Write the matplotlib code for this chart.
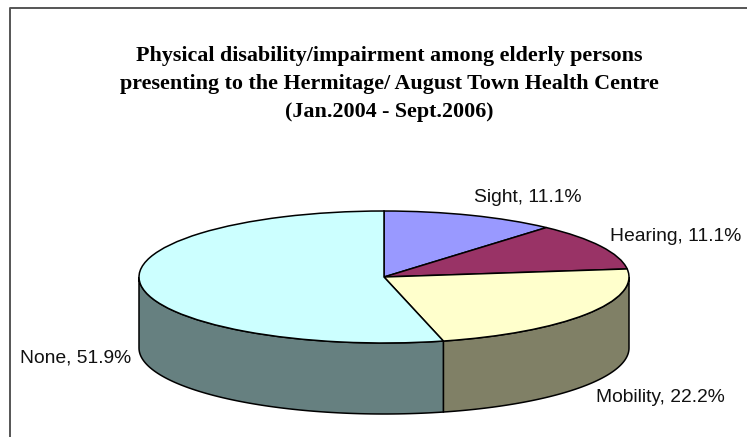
import matplotlib
matplotlib.use("Agg")
import matplotlib.pyplot as plt
import numpy as np
from matplotlib.lines import Line2D

# values as labelled; they do not sum to 100, the pie normalises them
categories = ["Sight", "Hearing", "Mobility", "None"]
percents = [11.1, 11.1, 22.2, 51.9]
top_colors = ["#9999ff", "#993366", "#ffffcc", "#ccffff"]
wall_colors = ["#4d4d80", "#4d1a33", "#808066", "#668080"]
title_lines = "Physical disability/impairment among elderly persons\npresenting to the Hermitage/ August Town Health Centre\n(Jan.2004 - Sept.2006)"

W, H = 747, 437
CX, CY, RX, RY, DEPTH = 384, 277, 245, 66, 71
LABEL_POS = [(474, 198), (610, 236), (596.5, 398), (20, 358)]

plt.rcParams["font.family"] = "Liberation Sans"

fig = plt.figure(figsize=(W / 100, H / 100), dpi=100)
ax = fig.add_axes([0, 0, 1, 1])

ax.pie(
    percents,
    colors=top_colors,
    startangle=90,
    counterclock=False,
    wedgeprops={"edgecolor": "black", "linewidth": 1.1, "zorder": 3},
)
ax.set_aspect("auto")
ax.set_xlim(-CX / RX, (W - CX) / RX)
ax.set_ylim(-(H - CY) / RY, CY / RY)

# side wall of the disc, only the front half (90..270 deg clockwise from top) shows
edges = np.cumsum([0] + percents) / sum(percents) * 360
depth = DEPTH / RY
for start, end, color in zip(edges[:-1], edges[1:], wall_colors):
    start, end = max(start, 90), min(end, 270)
    if end <= start:
        continue
    t = np.radians(np.linspace(start, end, 80))
    x, y = np.sin(t), np.cos(t)
    ax.fill(
        np.r_[x, x[::-1]],
        np.r_[y, y[::-1] - depth],
        facecolor=color,
        edgecolor="black",
        linewidth=1.1,
        zorder=2,
    )

for name, pct, (px, py) in zip(categories, percents, LABEL_POS):
    fig.text(px / W, 1 - py / H, f"{name}, {pct}%", fontsize=13.85, ha="left", va="center", color="#111111")

fig.text(
    389.5 / W,
    1 - 84 / H,
    title_lines,
    family="Liberation Serif",
    fontweight="bold",
    fontsize=15.8,
    ha="center",
    va="center",
    linespacing=1.54,
)

# chart border, right and bottom sides are cropped in the picture
fig.add_artist(Line2D([10 / W, 10 / W, 1], [0, 1 - 8 / H, 1 - 8 / H], color="#555555", linewidth=1.4))

fig.savefig("out.png", dpi=100)
